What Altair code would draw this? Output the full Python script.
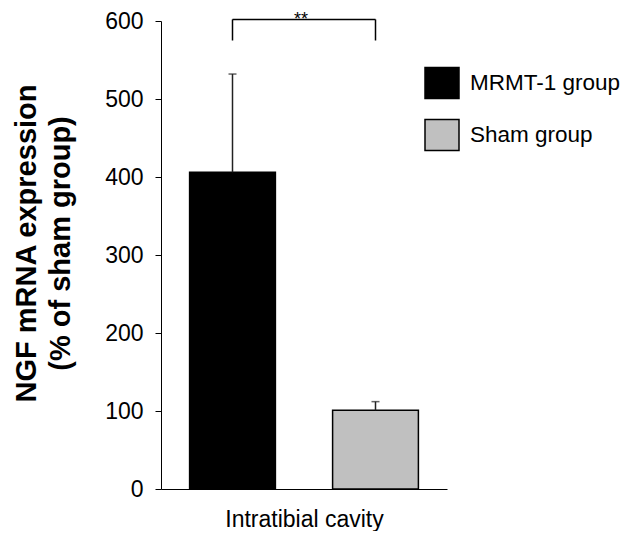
import altair as alt
import pandas as pd

# ---- data ----
groups = ["MRMT-1 group", "Sham group"]
means = [406, 101]
upper = [532, 112]
colors = ["#000000", "#c0c0c0"]
y_ticks = [0, 100, 200, 300, 400, 500, 600]
bracket_top = 602
bracket_bottom = 575
sig_label = "**"
x_title = "Intratibial cavity"
y_title = ["NGF mRNA expression", "(% of sham group)"]

FONT = "Liberation Sans"

df = pd.DataFrame({"group": groups, "pos": [i + 1 for i in range(len(groups))],
                   "mean": means, "upper": upper})
bracket_h = pd.DataFrame({"x": [1], "x2": [2], "y": [bracket_top], "label": [sig_label]})
bracket_v = pd.DataFrame({"x": [1, 2], "y": [bracket_bottom] * 2, "y2": [bracket_top] * 2})

xscale = alt.Scale(domain=[0.5, 2.5], nice=False, zero=False)
yscale = alt.Scale(domain=[0, 600], nice=False)
xaxis = alt.Axis(labels=False, ticks=False, grid=False, domain=True, title=x_title)
yaxis = alt.Axis(values=y_ticks, grid=False, title=y_title)


def X(field):
    return alt.X(field, type="quantitative", scale=xscale, axis=xaxis, title=x_title)


def Y(field):
    return alt.Y(field, type="quantitative", scale=yscale, axis=yaxis, title=y_title)


bars = alt.Chart(df).transform_calculate(
    x0="datum.pos - 0.3", x1="datum.pos + 0.3", base="0"
).mark_bar(stroke="black", strokeWidth=1.5).encode(
    x=X("x0"), x2="x1:Q", y=Y("mean"), y2="base:Q",
    color=alt.Color("group:N", scale=alt.Scale(domain=groups, range=colors),
                    legend=alt.Legend(
                        title=None, orient="none", legendX=263, legendY=44,
                        symbolType="M-1,-0.912H1V0.912H-1Z", symbolSize=1156,
                        symbolStrokeColor="black", symbolStrokeWidth=1.5,
                        symbolOpacity=1, labelFontSize=22.5, labelFont=FONT,
                        labelColor="black", labelOffset=10, labelLimit=300,
                        rowPadding=14, padding=0)),
)

err = alt.Chart(df).mark_rule(color="#222", strokeWidth=1.5).encode(
    x=X("pos"), y=Y("mean"), y2="upper:Q"
)
caps = alt.Chart(df).mark_tick(color="#222", orient="horizontal", size=8, thickness=1.5).encode(
    x=X("pos"), y=Y("upper")
)

br_h = alt.Chart(bracket_h).mark_rule(color="black", strokeWidth=1.5).encode(
    x=X("x"), x2="x2:Q", y=Y("y")
)
br_v = alt.Chart(bracket_v).mark_rule(color="black", strokeWidth=1.5).encode(
    x=X("x"), y=Y("y"), y2="y2:Q"
)
stars = alt.Chart(bracket_h).transform_calculate(
    xm="(datum.x + datum.x2) / 2"
).mark_text(font=FONT, fontSize=18, baseline="alphabetic", dy=6, dx=-3, color="black").encode(
    x=X("xm"), y=Y("y"), text="label:N"
)

chart = alt.layer(bars, err, caps, br_h, br_v, stars).properties(
    width=286, height=468,
    autosize=alt.AutoSizeParams(type="none"),
    padding={"left": 153, "top": 13, "right": 175, "bottom": 42},
).configure(font=FONT).configure_view(stroke=None).configure_axisY(
    labelFontSize=23, labelFont=FONT, labelColor="black", labelPadding=12,
    tickSize=6, tickColor="black", tickWidth=1, domainColor="black", domainWidth=1,
    titleFontSize=29, titleFont=FONT, titleFontWeight="bold", titleColor="black",
    titleAngle=270, titleAlign="center", titleBaseline="alphabetic",
    titleX=-126, titleY=222, titleLineHeight=34,
).configure_axisX(
    domainColor="black", domainWidth=1, titleFontSize=23, titleFont=FONT,
    titleFontWeight="normal", titleColor="black", titlePadding=19,
)

chart.save("out.html", embed_options={"renderer": "svg", "actions": False})
